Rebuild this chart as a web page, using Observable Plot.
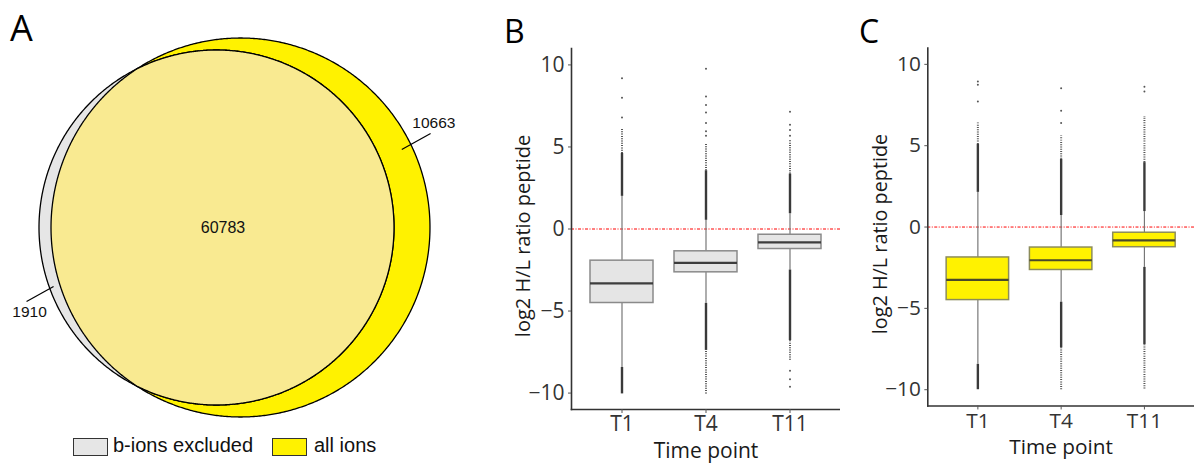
<!DOCTYPE html>
<html>
<head>
<meta charset="utf-8">
<script src="https://cdn.jsdelivr.net/npm/d3@7"></script>
<script src="https://cdn.jsdelivr.net/npm/@observablehq/plot@0.6"></script>
<style>
  html, body { margin: 0; padding: 0; background: #fff; }
  body { width: 1194px; height: 469px; overflow: hidden; position: relative; font-family: "Liberation Sans", Arial, sans-serif; }
  .abs { position: absolute; }
  .letter { font-family: "Open Sans", sans-serif; color: #000; line-height: 1; white-space: nowrap; }
  .swatch { position: absolute; box-sizing: border-box; border: 1.5px solid #333; }
  .legtext { position: absolute; font-size: 20px; line-height: 20px; color: #111; white-space: nowrap; }
</style>
</head>
<body>
<div id="panelA" class="abs" style="left:0;top:0"></div>
<div id="panelB" class="abs" style="left:490px;top:0"></div>
<div id="panelC" class="abs" style="left:847px;top:0"></div>
<div class="abs letter" style="left:10px;top:10px;font-size:36px">A</div>
<div class="abs letter" style="left:504px;top:15px;font-size:32px">B</div>
<div class="abs letter" style="left:859px;top:15px;font-size:32px">C</div>
<div id="legend"></div>
<script>
// ---------------- DATA ----------------
// Venn (panel A)
const vennSets = ["b-ions excluded", "all ions"];
const vennRegions = ["b-ions excluded only", "both", "all ions only"];
const vennCounts = [1910, 60783, 10663];

// Box plots (panels B, C)
const timePoints = ["T1", "T4", "T11"];
const yTicks = [-10, -5, 0, 5, 10];

// Panel B: b-ions excluded
const bQ1 = [-4.51, -2.64, -1.22];
const bMedian = [-3.31, -2.07, -0.82];
const bQ3 = [-1.93, -1.36, -0.35];
const bWhiskerLow = [-8.44, -4.53, -2.50];
const bWhiskerHigh = [1.99, 0.53, 0.93];
const bDenseUp = [[1.99, 4.6], [0.53, 3.55], [0.93, 3.35]];
const bLooseUp = [[4.6, 6.1], [3.55, 5.2], [3.35, 5.4]];
const bDenseLow = [[-10.05, -8.44], [-7.4, -4.53], [-6.8, -2.50]];
const bLooseLow = [null, [-10.05, -7.4], [-8.0, -6.8]];
const bOutT1 = [6.8, 8.0, 9.18];
const bOutT4 = [5.69, 5.95, 6.46, 7.1, 7.56, 8.07, 9.76];
const bOutT11 = [5.69, 6.04, 6.36, 7.15, -8.64, -9.15, -9.62];

// Panel C: all ions
const cQ1 = [-4.49, -2.64, -1.24];
const cMedian = [-3.25, -2.04, -0.82];
const cQ3 = [-1.87, -1.26, -0.35];
const cWhiskerLow = [-8.44, -4.62, -2.48];
const cWhiskerHigh = [2.13, 0.71, 0.95];
const cDenseUp = [[2.13, 5.08], [0.71, 4.16], [0.95, 3.96]];
const cLooseUp = [[5.08, 6.4], [4.16, 5.59], [3.96, 6.8]];
const cDenseLow = [[-10.0, -8.44], [-7.42, -4.62], [-7.22, -2.48]];
const cLooseLow = [null, [-10.0, -7.42], [-9.96, -7.22]];
const cOutT1 = [7.72, 8.74, 8.94];
const cOutT4 = [6.4, 7.15, 8.53];
const cOutT11 = [8.33, 8.63];

// ---------------- STYLES ----------------
const COL_GRAY = "#E6E6E6", COL_YELLOW = "#FFF200", COL_OVERLAP = "#F9EA91";

// ---------------- PANEL A : VENN ----------------
(function () {
  const rG = Math.sqrt((vennCounts[0] + vennCounts[1]) / Math.PI);
  const rY = Math.sqrt((vennCounts[1] + vennCounts[2]) / Math.PI);
  function lensArea(d, r1, r2) {
    if (d <= Math.abs(r1 - r2)) return Math.PI * Math.min(r1, r2) ** 2;
    if (d >= r1 + r2) return 0;
    const a1 = Math.acos((d * d + r1 * r1 - r2 * r2) / (2 * d * r1));
    const a2 = Math.acos((d * d + r2 * r2 - r1 * r1) / (2 * d * r2));
    const s = Math.sqrt((-d + r1 + r2) * (d + r1 - r2) * (d - r1 + r2) * (d + r1 + r2));
    return r1 * r1 * a1 + r2 * r2 * a2 - 0.5 * s;
  }
  let lo = Math.abs(rY - rG), hi = rG + rY;
  for (let i = 0; i < 100; i++) {
    const m = (lo + hi) / 2;
    if (lensArea(m, rG, rY) > vennCounts[1]) lo = m; else hi = m;
  }
  const d = (lo + hi) / 2;
  const xG = 0, xY = d;

  function circlePts(cx, r, n = 400) {
    const a = [];
    for (let i = 0; i <= n; i++) {
      const t = Math.PI * (1 - i / n);
      a.push({ x: cx + r * Math.cos(t), hi: r * Math.sin(t), lo: -r * Math.sin(t) });
    }
    return a;
  }
  const gPts = circlePts(xG, rG), yPts = circlePts(xY, rY);
  const lx0 = xY - rY, lx1 = xG + rG;
  const half = (cx, r, x) => Math.sqrt(Math.max(0, r * r - (x - cx) ** 2));
  const xs = [...gPts, ...yPts].map(p => p.x).filter(x => x >= lx0 && x <= lx1);
  xs.push(lx0, lx1);
  xs.sort((a, b) => a - b);
  const lens = xs.map(x => {
    const h = Math.min(half(xG, rG, x), half(xY, rY, x));
    return { x, hi: h, lo: -h };
  });

  const polar = (cx, r, f, deg) => [cx + f * r * Math.cos(deg * Math.PI / 180), f * r * Math.sin(deg * Math.PI / 180)];
  const yIn = polar(xY, rY, 0.944, 26), yOut = polar(xY, rY, 1.118, 26.5), yLab = polar(xY, rY, 1.158, 28.5);
  const gIn = polar(xG, rG, 0.978, 199.7), gOut = polar(xG, rG, 1.150, 201.1), gLab = polar(xG, rG, 1.158, 204.2);
  const links = [
    { x1: yIn[0], y1: yIn[1], x2: yOut[0], y2: yOut[1] },
    { x1: gIn[0], y1: gIn[1], x2: gOut[0], y2: gOut[1] }
  ];
  const labels = [
    { x: gLab[0], y: gLab[1], t: String(vennCounts[0]), s: 15 },
    { x: xG + 0.25 * d, y: 0, t: String(vennCounts[1]), s: 16 },
    { x: yLab[0], y: yLab[1], t: String(vennCounts[2]), s: 15 }
  ];

  const W = 460, H = 432, cxPx = 216.5, cyPx = 227.5;
  const k = 177.5 / rG;
  const plot = Plot.plot({
    width: W, height: H, margin: 0,
    x: { domain: [xG - cxPx / k, xG + (W - cxPx) / k], axis: null },
    y: { domain: [-(H - cyPx) / k, cyPx / k], axis: null },
    style: { fontFamily: "'Liberation Sans', Arial, sans-serif", background: "transparent" },
    marks: [
      Plot.areaY(yPts, { x: "x", y1: "lo", y2: "hi", fill: COL_YELLOW, stroke: "#000", strokeWidth: 1.3, curve: "linear" }),
      Plot.areaY(gPts, { x: "x", y1: "lo", y2: "hi", fill: COL_GRAY, stroke: "#000", strokeWidth: 1.3, curve: "linear" }),
      Plot.areaY(lens, { x: "x", y1: "lo", y2: "hi", fill: COL_OVERLAP, stroke: "#000", strokeWidth: 1.3, curve: "linear" }),
      Plot.link(links, { x1: "x1", y1: "y1", x2: "x2", y2: "y2", stroke: "#000", strokeWidth: 1.2 }),
      Plot.text(labels.filter(l => l.s === 15), { x: "x", y: "y", text: "t", fontSize: 15.5, fill: "#111" }),
      Plot.text(labels.filter(l => l.s === 16), { x: "x", y: "y", text: "t", fontSize: 16, fill: "#111" })
    ]
  });
  document.getElementById("panelA").appendChild(plot);

  // legend (HTML, below the SVG)
  const leg = document.getElementById("legend");
  const items = [
    { name: vennSets[0], fill: COL_GRAY, box: 72.7, text: 113 },
    { name: vennSets[1], fill: COL_YELLOW, box: 272, text: 314 }
  ];
  for (const it of items) {
    const sw = document.createElement("div");
    sw.className = "swatch";
    sw.style.cssText = `left:${it.box}px;top:438px;width:35px;height:18px;background:${it.fill}`;
    leg.appendChild(sw);
    const tx = document.createElement("div");
    tx.className = "legtext";
    tx.style.left = it.text + "px";
    tx.style.top = "435px";
    tx.textContent = it.name;
    leg.appendChild(tx);
  }
})();

// ---------------- PANELS B & C : BOX PLOTS ----------------
function boxPanel(el, q1, med, q3, wl, wh, denseUp, looseUp, denseLow, looseLow, outs, fill, stroke, medStroke) {
  const stats = timePoints.map((t, i) => ({ t, q1: q1[i], med: med[i], q3: q3[i], wl: wl[i], wh: wh[i] }));
  const dense = [];
  const loose = [];
  timePoints.forEach((t, i) => {
    for (const r of [denseUp[i], denseLow[i]]) if (r) dense.push({ t, a: r[0], b: r[1] });
    for (const r of [looseUp[i], looseLow[i]]) if (r) loose.push({ t, a: r[0], b: r[1] });
  });
  const pts = [];
  timePoints.forEach((t, i) => outs[i].forEach(v => pts.push({ t, v })));
  const fmt = v => (v < 0 ? "\u2212" + Math.abs(v) : String(v));

  const plot = Plot.plot({
    width: 350, height: 469,
    marginLeft: 81, marginRight: 0, marginTop: 48, marginBottom: 60,
    style: { fontFamily: "'Open Sans', sans-serif", background: "transparent", color: "#333" },
    x: { type: "band", domain: timePoints, paddingInner: 0.25, paddingOuter: 0.225, axis: null },
    y: { domain: [-11, 11], axis: null },
    marks: [
      Plot.ruleY([0], { stroke: "#FF0000", strokeWidth: 1, strokeDasharray: "3,1.5,1,1.5" }),
      Plot.ruleX(stats, { x: "t", y1: "q3", y2: "wh", stroke: "#777", strokeWidth: 1.2 }),
      Plot.ruleX(stats, { x: "t", y1: "wl", y2: "q1", stroke: "#777", strokeWidth: 1.2 }),
      Plot.ruleX(loose, { x: "t", y1: "a", y2: "b", stroke: "#555", strokeWidth: 2, strokeDasharray: "1,1.3" }),
      Plot.ruleX(dense, { x: "t", y1: "a", y2: "b", stroke: "#3a3a3a", strokeWidth: 2.4 }),
      Plot.dot(pts, { x: "t", y: "v", r: 1, fill: "#555", stroke: null }),
      Plot.barY(stats, { x: "t", y1: "q1", y2: "q3", fill, stroke, strokeWidth: 1.5 }),
      Plot.tickY(stats, { x: "t", y: "med", stroke: medStroke, strokeWidth: 2.2 }),
      Plot.frame({ anchor: "left", stroke: "#333", strokeWidth: 1.6 }),
      Plot.frame({ anchor: "bottom", stroke: "#333", strokeWidth: 1.6 }),
      Plot.axisY({ ticks: yTicks, tickFormat: fmt, tickSize: 3, tickPadding: 4, fontSize: 21, label: null, stroke: "#555" }),
      Plot.axisX({ tickSize: 4, tickPadding: 3, fontSize: 21, label: null, stroke: "#555" }),
      Plot.text(["log2 H/L ratio peptide"], { frameAnchor: "left", textAnchor: "middle", lineAnchor: "middle", rotate: -90, dx: -48, dy: 7, fontSize: 20, fill: "#1a1a1a" }),
      Plot.text(["Time point"], { frameAnchor: "bottom", dy: 48, fontSize: 21, fill: "#1a1a1a" })
    ]
  });
  document.getElementById(el).appendChild(plot);
}

boxPanel("panelB", bQ1, bMedian, bQ3, bWhiskerLow, bWhiskerHigh, bDenseUp, bLooseUp, bDenseLow, bLooseLow,
  [bOutT1, bOutT4, bOutT11], "#E5E5E5", "#8a8a8a", "#3d3d3d");
boxPanel("panelC", cQ1, cMedian, cQ3, cWhiskerLow, cWhiskerHigh, cDenseUp, cLooseUp, cDenseLow, cLooseLow,
  [cOutT1, cOutT4, cOutT11], COL_YELLOW, "#8c8c5a", "#4a4a2a");
</script>
</body>
</html>
